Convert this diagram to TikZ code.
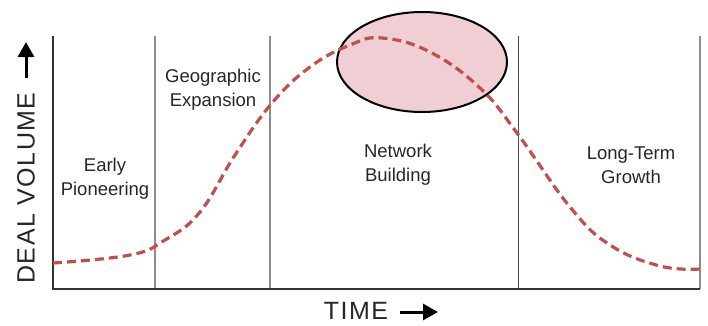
\documentclass[tikz,border=0pt]{standalone}
\usepackage{fontspec}
\setmainfont{Liberation Sans}
\usetikzlibrary{shapes.geometric,arrows.meta}
\definecolor{trendred}{HTML}{C0504D}
\definecolor{bubblepink}{HTML}{EFCFD3}
\begin{document}
\begin{tikzpicture}[x=1pt,y=-1pt,
  every node/.style = {align=center, inner sep=0pt},
  phase/.style  = {font=\fontsize{18.5}{24}\selectfont, text=black!85},
  axistext/.style = {font=\fontsize{25}{25}\selectfont\addfontfeature{LetterSpace=6}, text=black!85},
  pointer/.style = {-{Triangle[length=15pt,width=16pt]}, line width=3pt},
  divider/.style = {draw=black!45, line width=1.5pt},
  bubble/.style = {ellipse, draw=black, line width=2pt, fill=bubblepink,
    minimum width=170, minimum height=100},
  trend/.style = {draw=trendred, line width=3.2pt, dash pattern=on 9pt off 5pt}]
\useasboundingbox (0,0) rectangle (708,325);
\coordinate (origin) at (53,289);
\coordinate (top) at (53,36);
\coordinate (end) at (700,289);
% phase dividers
\foreach \x in {155,270}
  \draw[divider] (\x,289) -- (\x,36);
\draw[divider, draw=black!70, line width=1pt] (518,289) -- (518,36);
\draw[divider] (end) -- (700,36);
% axes
\draw[black!80, line width=1.5pt] (top) -- (origin) -- (end);
% peak
\node[bubble] (peak) at (422,62) {};
% deal curve
\draw[trend] plot[smooth, tension=0.7] coordinates {
  (53,263) (130,255) (165,240) (200,212) (235,155) (272,103) (310,67)
  (350,45) (382,38) (430,52) (480,88) (517,133) (570,207) (610,245)
  (660,266) (700,269)};
% phases
\node[phase] (early) at (105,179) {Early\\Pioneering};
\node[phase] (geo) at (213,90) {Geographic\\Expansion};
\node[phase] (net) at (398,165) {Network\\Building};
\node[phase] (long) at (631,165) {Long-Term\\Growth};
% axis labels
\node[axistext, rotate=90] (volume) at (26,188) {DEAL VOLUME};
\coordinate (volumetip) at (26,42);
\draw[pointer] (volume.east) ++(0,-14) -- (volumetip);
\node[axistext] (time) at (356,311) {TIME};
\coordinate (timetip) at (438,312);
\draw[pointer] (time.east) ++(12,1) -- (timetip);
\end{tikzpicture}
\end{document}
